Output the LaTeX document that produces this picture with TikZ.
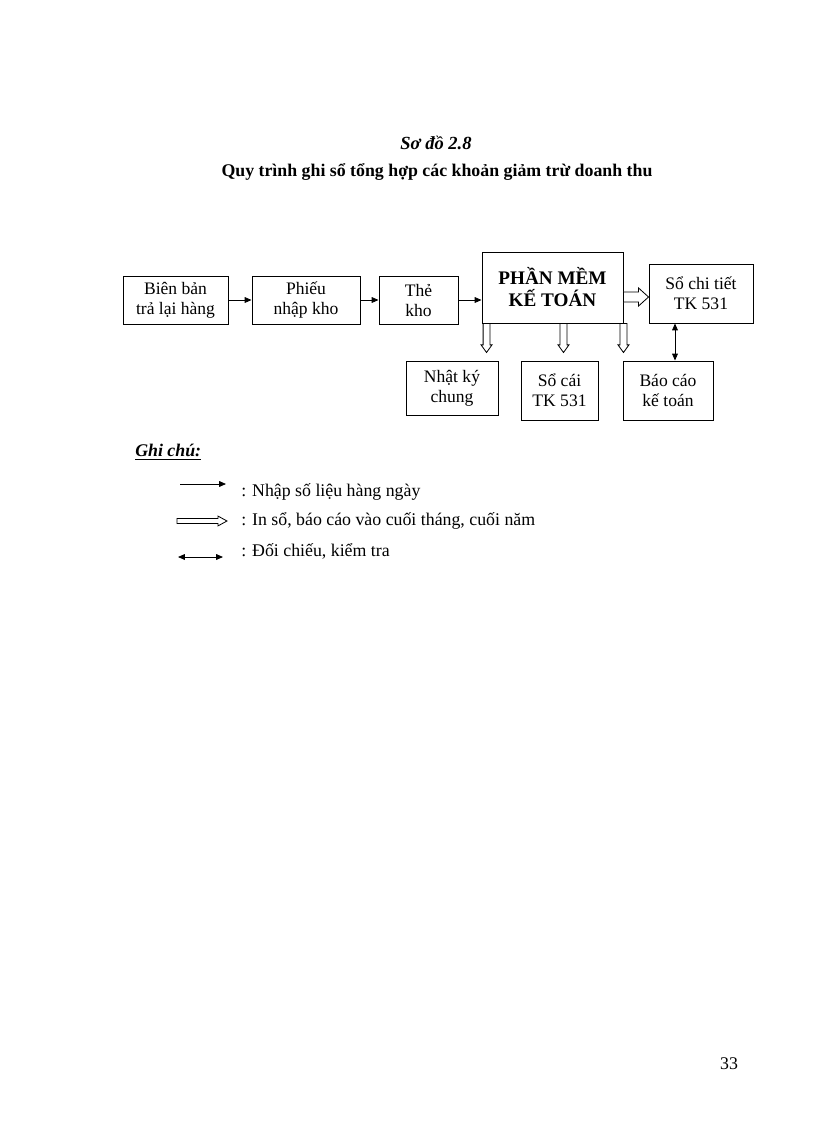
\documentclass[tikz,border=0pt]{standalone}
\usepackage{fontspec}
\setmainfont{Liberation Serif}
\usetikzlibrary{arrows.meta,calc}
\def\u{0.7296pt}
\newcommand\hollowh[5]{\draw[hollow] let \p1=(#1), \p2=(#2) in
 (\x1,\y1+#3) -- (\x2-#5,\y1+#3) -- (\x2-#5,\y1+#4) -- (\x2,\y1) -- (\x2-#5,\y1-#4) -- (\x2-#5,\y1-#3) -- (\x1,\y1-#3) -- cycle;}
\newcommand\hollowv[5]{\draw[hollow] let \p1=(#1), \p2=(#2) in
 (\x1+#3,\y1) -- (\x1+#3,\y2+#5) -- (\x1+#4,\y2+#5) -- (\x1,\y2) -- (\x1-#4,\y2+#5) -- (\x1-#3,\y2+#5) -- (\x1-#3,\y1) -- cycle;}
\begin{document}
\begin{tikzpicture}[x=0.7296pt,y=-0.7296pt,
  box/.style={draw,line width=0.7pt,align=center,inner sep=0pt,font=\fontsize{12.8}{14.6}\selectfont},
  thin/.style={line width=0.6pt,-{Triangle[length=5pt,width=4.2pt]}},
  both/.style={line width=0.6pt,{Triangle[length=5pt,width=4.2pt]}-{Triangle[length=5pt,width=4.2pt]}},
  hollow/.style={draw,line width=0.6pt,fill=white},
  txt/.style={inner sep=0pt,font=\fontsize{13}{15}\selectfont}]
\useasboundingbox (0,0) rectangle (816,1123);
\fill[white] (0,0) rectangle (816,1123);

% titles
\node[txt,font=\fontsize{13.5}{15}\selectfont\bfseries\itshape] (t1) at (436,143) {Sơ đồ 2.8};
\node[txt,font=\fontsize{13}{15}\selectfont\bfseries] (t2) at (437,172) {Quy trình ghi sổ tổng hợp các khoản giảm trừ doanh thu};

% boxes
\node[box,minimum width=105*\u,minimum height=48*\u] (bb) at (175.5,300) {Biên bản\\trả lại hàng};
\node[box,minimum width=108*\u,minimum height=48*\u] (pn) at (306,300) {Phiếu\\nhập kho};
\node[box,minimum width=79*\u,minimum height=48*\u] (tk) at (418.5,300) {Thẻ\\kho};
\node[box,minimum width=141*\u,minimum height=71*\u,font=\fontsize{14}{16}\selectfont\bfseries] (pm) at (552.5,287.5) {PHẦN MỀM\\KẾ TOÁN};
\node[box,minimum width=104*\u,minimum height=59*\u] (sct) at (701,293.5) {Sổ chi tiết\\TK 531};
\node[box,minimum width=92*\u,minimum height=54*\u] (nkc) at (452,388) {Nhật ký\\chung};
\node[box,minimum width=77*\u,minimum height=59*\u] (sc) at (559.5,390.5) {Sổ cái\\TK 531};
\node[box,minimum width=90*\u,minimum height=59*\u] (bc) at (668,390.5) {Báo cáo\\kế toán};

% connectors
\draw[thin] (bb.east) -- (pn.west);
\draw[thin] (pn.east) -- (tk.west);
\draw[thin] (tk.east) -- (pm.west |- tk.east);
\hollowh{$(pm.east)+(0,9.5)$}{sct.west}{3.7pt}{6.6pt}{7.3pt}
\hollowv{$(pm.south west)+(5,0)$}{$(nkc.north)+(0,-8)$}{2.5pt}{4pt}{5.6pt}
\hollowv{$(pm.south)+(11,0)$}{$(sc.north)+(0,-8)$}{2.5pt}{4pt}{5.6pt}
\hollowv{pm.south east}{$(bc.north)+(0,-8)$}{2.5pt}{4pt}{5.6pt}
\draw[both] ($(sct.south)+(-26,0)$) -- ($(bc.north)+(7,0)$);

% legend
\node[txt,anchor=west,font=\fontsize{13}{15}\selectfont\bfseries\itshape] (gc) at (135,452) {\underline{Ghi chú:}};
\coordinate (l1a) at (180,484); \coordinate (l1b) at (226,484);
\coordinate (l2a) at (177,521); \coordinate (l2b) at (227,521);
\coordinate (l3a) at (178,557); \coordinate (l3b) at (223,557);
\draw[thin] (l1a) -- (l1b);
\hollowh{l2a}{l2b}{1.8pt}{3.6pt}{6.6pt}
\draw[both] (l3a) -- (l3b);
\node[txt,anchor=west] (n1) at (241,492) {: Nhập số liệu hàng ngày};
\node[txt,anchor=west] (n2) at (241,521) {: In sổ, báo cáo vào cuối tháng, cuối năm};
\node[txt,anchor=west] (n3) at (241,551) {: Đối chiếu, kiểm tra};

% page number
\node[txt] (pg) at (729,1064) {33};
\end{tikzpicture}
\end{document}
